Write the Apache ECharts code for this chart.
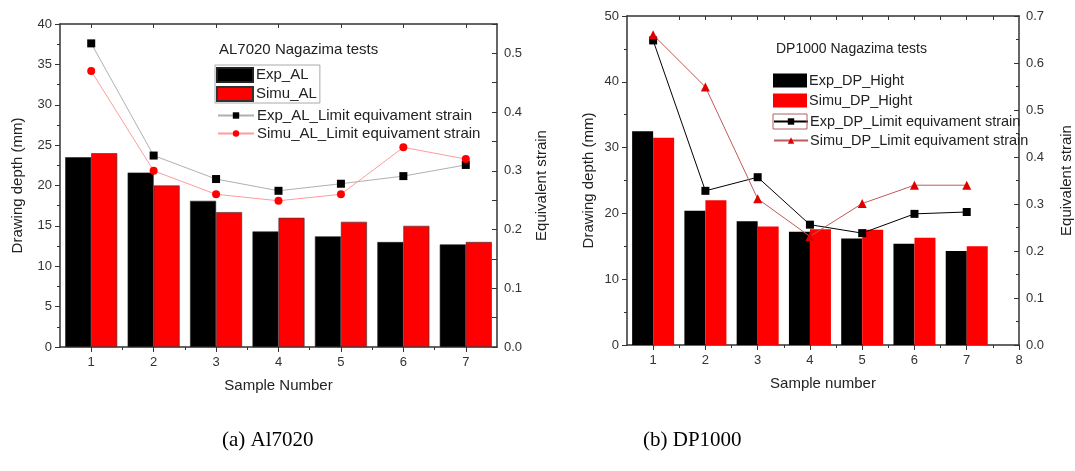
<!DOCTYPE html>
<html>
<head>
<meta charset="utf-8">
<script src="https://cdn.jsdelivr.net/npm/echarts@6/dist/echarts.min.js"></script>
<style>
html,body{margin:0;padding:0;background:#fff;}
#c{width:1075px;height:471px;}
</style>
</head>
<body>
<div id="c"></div>
<script>
// ---- data: (a) AL7020 ----
const samplesAL = [1, 2, 3, 4, 5, 6, 7];
const expAL = [23.5, 21.6, 18.1, 14.3, 13.7, 13.0, 12.7];
const simuAL = [24.0, 20.0, 16.7, 16.0, 15.5, 15.0, 13.0];
const expALStrain = [0.517, 0.326, 0.286, 0.266, 0.278, 0.291, 0.310];
const simuALStrain = [0.470, 0.300, 0.260, 0.249, 0.260, 0.340, 0.320];
// ---- data: (b) DP1000 ----
const samplesDP = [1, 2, 3, 4, 5, 6, 7];
const expDP = [32.5, 20.4, 18.8, 17.2, 16.2, 15.4, 14.3];
const simuDP = [31.5, 22.0, 18.0, 17.6, 17.5, 16.3, 15.0];
const expDPStrain = [0.648, 0.328, 0.357, 0.256, 0.238, 0.279, 0.283];
const simuDPStrain = [0.660, 0.549, 0.311, 0.231, 0.301, 0.340, 0.340];
// ---- tick labels ----
const xTicksAL = [1, 2, 3, 4, 5, 6, 7];
const xTicksDP = [1, 2, 3, 4, 5, 6, 7, 8];
const strainTicksAL = [0, 0.1, 0.2, 0.3, 0.4, 0.5];
const strainMinorAL = [0, 0.05, 0.1, 0.15, 0.2, 0.25, 0.3, 0.35, 0.4, 0.45, 0.5, 0.55];

const pair = (xs, ys) => xs.map((x, i) => [x, ys[i]]);
const halves = (a, b) => { const r = []; for (let v = a; v <= b + 1e-9; v += 0.5) r.push(v); return r; };

const FONT = 'Liberation Sans, Arial, sans-serif';
const AX = '#333';
const lbl = { fontFamily: FONT, fontSize: 13, color: '#333' };
const nameStyle = { fontFamily: FONT, fontSize: 15, color: '#222' };

const chart = echarts.init(document.getElementById('c'), null, { renderer: 'canvas' });

const option = {
  animation: false,
  backgroundColor: '#fff',
  grid: [
    { left: 60, top: 24, width: 437, height: 323 },
    { left: 627, top: 16, width: 401, height: 329 }
  ],
  title: [
    { text: 'AL7020 Nagazima tests', left: 219, top: 42, textStyle: { fontFamily: FONT, fontSize: 15, fontWeight: 'normal', color: '#222' }, padding: 0 },
    { text: 'DP1000 Nagazima tests', left: 776, top: 42, textStyle: { fontFamily: FONT, fontSize: 14, fontWeight: 'normal', color: '#222' }, padding: 0 }
  ],
  legend: [
    { data: ['Exp_AL', 'Simu_AL'], orient: 'vertical', left: 215, top: 65, padding: [2, 3, 1, 1], icon: 'rect',
      borderColor: '#aaa', borderWidth: 1, itemWidth: 36, itemHeight: 14, itemGap: 3,
      textStyle: { fontFamily: FONT, fontSize: 15, color: '#222', padding: [0, 0, 0, -2] } },
    { data: ['Exp_AL_Limit equivament strain', 'Simu_AL_Limit equivament strain'], orient: 'vertical', left: 217, top: 108, padding: 0,
      itemWidth: 36, itemHeight: 8, itemGap: 3,
      textStyle: { fontFamily: FONT, fontSize: 15, color: '#222', padding: [0, 0, 0, -2] } },
    { data: ['Exp_DP_Hight', 'Simu_DP_Hight'], orient: 'vertical', left: 773, top: 73, padding: 0, icon: 'rect',
      itemWidth: 34, itemHeight: 14, itemGap: 5,
      textStyle: { fontFamily: FONT, fontSize: 14.5, color: '#222', padding: [0, 0, 0, -3] } },
    { data: ['Exp_DP_Limit equivament strain', 'Simu_DP_Limit equivament strain'], orient: 'vertical', left: 773, top: 114, padding: 0,
      itemWidth: 34, itemHeight: 8, itemGap: 4,
      textStyle: { fontFamily: FONT, fontSize: 14.5, color: '#222', padding: [0, 0, 0, -3] } }
  ],
  xAxis: [
    { type: 'value', gridIndex: 0, min: 0.5, max: 7.5, position: 'bottom',
      name: 'Sample Number', nameLocation: 'middle', nameGap: 31, nameTextStyle: nameStyle,
      axisLine: { lineStyle: { color: AX, width: 1.5 } },
      axisTick: { customValues: xTicksAL, length: 5, lineStyle: { color: AX } },
      axisLabel: { customValues: xTicksAL, margin: 9, ...lbl },
      splitLine: { show: false } },
    { type: 'value', gridIndex: 0, min: 0.5, max: 7.5, position: 'bottom',
      axisLine: { show: false }, axisLabel: { show: false }, splitLine: { show: false },
      axisTick: { customValues: halves(1.5, 6.5), length: 3, lineStyle: { color: AX } } },
    { type: 'value', gridIndex: 0, min: 0.5, max: 7.5, position: 'top',
      axisLine: { lineStyle: { color: AX, width: 1.5 } }, axisLabel: { show: false }, splitLine: { show: false },
      axisTick: { inside: true, customValues: xTicksAL, length: 4, lineStyle: { color: AX } } },
    { type: 'value', gridIndex: 1, min: 0.5, max: 8, position: 'bottom',
      name: 'Sample number', nameLocation: 'middle', nameGap: 31, nameTextStyle: nameStyle,
      axisLine: { lineStyle: { color: AX, width: 1.5 } },
      axisTick: { customValues: xTicksDP, length: 5, lineStyle: { color: AX } },
      axisLabel: { customValues: xTicksDP, margin: 9, ...lbl },
      splitLine: { show: false } },
    { type: 'value', gridIndex: 1, min: 0.5, max: 8, position: 'bottom',
      axisLine: { show: false }, axisLabel: { show: false }, splitLine: { show: false },
      axisTick: { customValues: halves(1.5, 7.5), length: 3, lineStyle: { color: AX } } },
    { type: 'value', gridIndex: 1, min: 0.5, max: 8, position: 'top',
      axisLine: { lineStyle: { color: AX, width: 1.5 } }, axisLabel: { show: false }, splitLine: { show: false },
      axisTick: { inside: true, customValues: halves(1.5, 7.5), length: 4, lineStyle: { color: AX } } }
  ],
  yAxis: [
    { type: 'value', gridIndex: 0, min: 0, max: 40, interval: 5, position: 'left',
      name: 'Drawing depth (mm)', nameLocation: 'middle', nameGap: 35, nameRotate: 90, nameTextStyle: nameStyle,
      axisLine: { show: true, lineStyle: { color: AX, width: 1.5 } },
      axisTick: { show: true, length: 5, lineStyle: { color: AX } },
      minorTick: { show: true, splitNumber: 2, length: 3, lineStyle: { color: AX } },
      axisLabel: { margin: 8, ...lbl }, splitLine: { show: false } },
    { type: 'value', gridIndex: 0, min: 0, max: 0.55, position: 'right',
      name: 'Equivalent strain', nameLocation: 'middle', nameGap: 37, nameRotate: 90, nameTextStyle: nameStyle,
      axisLine: { show: true, lineStyle: { color: AX, width: 1.5 } },
      axisTick: { show: true, inside: true, customValues: strainMinorAL, length: 5, lineStyle: { color: AX } },
      axisLabel: { customValues: strainTicksAL, margin: 7, formatter: v => v.toFixed(1), ...lbl },
      splitLine: { show: false } },
    { type: 'value', gridIndex: 1, min: 0, max: 50, interval: 10, position: 'left',
      name: 'Drawing depth (mm)', nameLocation: 'middle', nameGap: 31, nameRotate: 90, nameTextStyle: nameStyle,
      axisLine: { show: true, lineStyle: { color: AX, width: 1.5 } },
      axisTick: { show: true, length: 5, lineStyle: { color: AX } },
      minorTick: { show: true, splitNumber: 2, length: 3, lineStyle: { color: AX } },
      axisLabel: { margin: 8, ...lbl }, splitLine: { show: false } },
    { type: 'value', gridIndex: 1, min: 0, max: 0.7, interval: 0.1, position: 'right',
      name: 'Equivalent strain', nameLocation: 'middle', nameGap: 40, nameRotate: 90, nameTextStyle: nameStyle,
      axisLine: { show: true, lineStyle: { color: AX, width: 1.5 } },
      axisTick: { show: true, inside: true, length: 5, lineStyle: { color: AX } },
      minorTick: { show: true, splitNumber: 2, length: 3, lineStyle: { color: AX } },
      axisLabel: { margin: 7, formatter: v => v.toFixed(1), ...lbl },
      splitLine: { show: false } }
  ],
  series: [
    { name: 'Exp_AL', type: 'bar', xAxisIndex: 0, yAxisIndex: 0, data: pair(samplesAL, expAL),
      barWidth: 26, barGap: '0%', itemStyle: { color: '#000', borderColor: '#222', borderWidth: 0.6 } },
    { name: 'Simu_AL', type: 'bar', xAxisIndex: 0, yAxisIndex: 0, data: pair(samplesAL, simuAL),
      barWidth: 26, barGap: '0%', itemStyle: { color: '#ff0000', borderColor: '#333', borderWidth: 0.6 } },
    { name: 'Exp_AL_Limit equivament strain', type: 'line', xAxisIndex: 0, yAxisIndex: 1, data: pair(samplesAL, expALStrain),
      symbol: 'rect', symbolSize: 8, lineStyle: { color: '#b0b0b0', width: 1 }, itemStyle: { color: '#000' }, z: 5 },
    { name: 'Simu_AL_Limit equivament strain', type: 'line', xAxisIndex: 0, yAxisIndex: 1, data: pair(samplesAL, simuALStrain),
      symbol: 'circle', symbolSize: 8, lineStyle: { color: '#ff9c9c', width: 1 }, itemStyle: { color: '#ff0000' }, z: 5 },

    { name: 'Exp_DP_Hight', type: 'bar', xAxisIndex: 3, yAxisIndex: 2, data: pair(samplesDP, expDP),
      barWidth: 21, barGap: '0%', itemStyle: { color: '#000' } },
    { name: 'Simu_DP_Hight', type: 'bar', xAxisIndex: 3, yAxisIndex: 2, data: pair(samplesDP, simuDP),
      barWidth: 21, barGap: '0%', itemStyle: { color: '#ff0000' } },
    { name: 'Exp_DP_Limit equivament strain', type: 'line', xAxisIndex: 3, yAxisIndex: 3, data: pair(samplesDP, expDPStrain),
      symbol: 'rect', symbolSize: 8, lineStyle: { color: '#000', width: 1 }, itemStyle: { color: '#000' }, z: 5 },
    { name: 'Simu_DP_Limit equivament strain', type: 'line', xAxisIndex: 3, yAxisIndex: 3, data: pair(samplesDP, simuDPStrain),
      symbol: 'triangle', symbolSize: 9, lineStyle: { color: '#c05a5a', width: 1 }, itemStyle: { color: '#e00000' }, z: 5 }
  ],
  graphic: [
    { type: 'rect', shape: { x: 773, y: 114, width: 34, height: 15 }, style: { fill: 'none', stroke: '#b06060', lineWidth: 1 }, z: 100 },
    { type: 'text', left: 222, top: 430, style: { text: '(a) Al7020', fontFamily: 'Liberation Serif, Times New Roman, serif', fontSize: 21, fill: '#000' } },
    { type: 'text', left: 643, top: 430, style: { text: '(b) DP1000', fontFamily: 'Liberation Serif, Times New Roman, serif', fontSize: 21, fill: '#000' } }
  ]
};
chart.setOption(option);
</script>
</body>
</html>
